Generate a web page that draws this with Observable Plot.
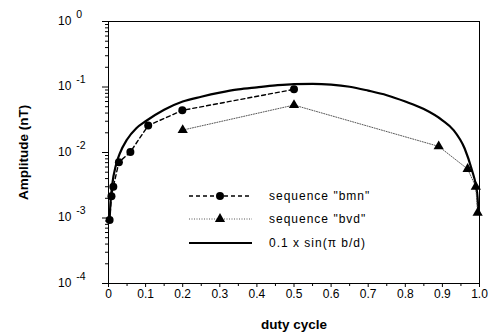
<!DOCTYPE html>
<html>
<head>
<meta charset="utf-8">
<script src="https://cdn.jsdelivr.net/npm/d3@7"></script>
<script src="https://cdn.jsdelivr.net/npm/@observablehq/plot@0.6"></script>
<style>
  html, body { margin: 0; padding: 0; background: white; }
  #wrap { position: relative; width: 492px; height: 335px; }
  #legend { position: absolute; left: 0; top: 0; pointer-events: none; }
</style>
</head>
<body>
<div id="wrap"></div>
<script>
// sequence "bmn" (filled circles, dashed line)
const bmnDuty = [0.003, 0.008, 0.013, 0.028, 0.059, 0.107, 0.199, 0.5];
const bmnAmp  = [0.00093, 0.00215, 0.0030, 0.0071, 0.0102, 0.0258, 0.044, 0.092];

// sequence "bvd" (filled triangles, dotted line)
const bvdDuty = [0.2, 0.5, 0.89, 0.968, 0.99, 0.995];
const bvdAmp  = [0.022, 0.053, 0.0124, 0.0056, 0.0030, 0.0012];

// 0.1 x sin(pi b/d) curve
const curveDuty = [0.003, 0.005, 0.01, 0.02, 0.03, 0.05, 0.075, 0.1, 0.15, 0.2, 0.25, 0.3, 0.35, 0.4, 0.45, 0.5, 0.55, 0.6, 0.65, 0.7, 0.75, 0.8, 0.85, 0.9, 0.93, 0.96, 0.98, 0.99, 0.995, 0.997];
const curveAmp  = [0.00094, 0.0016, 0.0032, 0.0064, 0.0095, 0.0158, 0.0235, 0.030, 0.045, 0.060, 0.071, 0.082, 0.092, 0.099, 0.106, 0.111, 0.112, 0.109, 0.101, 0.088, 0.075, 0.060, 0.046, 0.031, 0.022, 0.0115, 0.0053, 0.0032, 0.0020, 0.0012];

// axis ticks
const yMajor = [1e-4, 1e-3, 1e-2, 1e-1, 1];
const yMinor = [];
for (const p of [1e-4, 1e-3, 1e-2, 1e-1]) for (const m of [2,3,4,5,6,7,8,9]) yMinor.push(m * p);
const xMajor = [0, 0.1, 0.2, 0.3, 0.4, 0.5, 0.6, 0.7, 0.8, 0.9, 1.0];
const xMajorLabels = ["0", "0.1", "0.2", "0.3", "0.4", "0.5", "0.6", "0.7", "0.8", "0.9", "1.0"];
const xMinor = [0.05, 0.15, 0.25, 0.35, 0.45, 0.55, 0.65, 0.75, 0.85, 0.95];

const legendItems = ["sequence \"bmn\"", "sequence \"bvd\"", "0.1 x sin(\u03c0 b/d)"];

const bmn = bmnDuty.map((d, i) => ({duty: d, amp: bmnAmp[i]}));
const bvd = bvdDuty.map((d, i) => ({duty: d, amp: bvdAmp[i]}));
const curve = curveDuty.map((d, i) => ({duty: d, amp: curveAmp[i]}));

const chart = Plot.plot({
  width: 492,
  height: 335,
  marginLeft: 108,
  marginRight: 13,
  marginTop: 21,
  marginBottom: 52,
  style: {fontFamily: "'Liberation Sans', Arial, sans-serif", fontSize: "12px", background: "white", color: "black"},
  x: {domain: [0, 1]},
  y: {type: "log", domain: [1e-4, 1]},
  marks: [
    Plot.frame({stroke: "black", strokeWidth: 1}),
    Plot.axisY({ticks: yMajor, tickSize: 6, tickFormat: d => String(Math.round(Math.log10(d))), label: "Amplitude (nT)", labelAnchor: "center", labelOffset: 90, labelArrow: "none"}),
    Plot.axisY({ticks: yMinor, tickSize: 3, tickFormat: () => "", label: null}),
    Plot.axisX({ticks: xMajor, tickSize: 4, tickPadding: 2, tickFormat: (d, i) => xMajorLabels[i], label: "duty cycle", labelAnchor: "center", labelOffset: 45, labelArrow: "none"}),
    Plot.axisX({ticks: xMinor, tickSize: 3, tickFormat: () => "", label: null}),
    Plot.line(curve, {x: "duty", y: "amp", stroke: "black", strokeWidth: 2.2, curve: "monotone-x"}),
    Plot.line(bmn, {x: "duty", y: "amp", stroke: "black", strokeWidth: 1.4, strokeDasharray: "4,3"}),
    Plot.dot(bmn, {x: "duty", y: "amp", fill: "black", r: 4}),
    Plot.line(bvd, {x: "duty", y: "amp", stroke: "#444", strokeWidth: 0.9, strokeDasharray: "1,1.5"}),
    Plot.dot(bvd, {x: "duty", y: "amp", fill: "black", symbol: "triangle", r: 3.8})
  ]
});

document.getElementById("wrap").appendChild(chart);

// y tick labels as 10 with raised exponent (major ticks only)
d3.select(chart).selectAll('g[aria-label="y-axis tick label"] text').each(function() {
  const t = d3.select(this);
  const e = t.text();
  if (e === "") return;
  d3.select(this.parentNode).attr("transform", null);
  t.text("");
  t.attr("text-anchor", "start").attr("x", -50);
  t.append("tspan").text("10");
  t.append("tspan").attr("dx", 5).attr("dy", -7).attr("font-size", "10.5px").text(e);
});
d3.select(chart).selectAll('g[aria-label="y-axis label"] text, g[aria-label="x-axis label"] text')
  .attr("font-weight", "bold").attr("font-size", "13.5px");

// legend overlay
const lg = d3.select("#wrap").append("svg").attr("id", "legend").attr("width", 492).attr("height", 335)
  .style("font-family", "'Liberation Sans', Arial, sans-serif");
const rows = [196, 219, 243];
const x0 = 189, x1 = 252, xm = 220, xt = 269;
lg.append("line").attr("x1", x0).attr("x2", x1).attr("y1", rows[0]).attr("y2", rows[0]).attr("stroke", "black").attr("stroke-width", 1.4).attr("stroke-dasharray", "4,3");
lg.append("circle").attr("cx", xm).attr("cy", rows[0]).attr("r", 4).attr("fill", "black");
lg.append("line").attr("x1", x0).attr("x2", x1).attr("y1", rows[1]).attr("y2", rows[1]).attr("stroke", "#444").attr("stroke-width", 0.9).attr("stroke-dasharray", "1,1.5");
lg.append("path").attr("d", d3.symbol(d3.symbolTriangle, 45)()).attr("transform", `translate(${xm},${rows[1]})`).attr("fill", "black");
lg.append("line").attr("x1", x0).attr("x2", x1).attr("y1", rows[2]).attr("y2", rows[2]).attr("stroke", "black").attr("stroke-width", 2.2);
legendItems.forEach((s, i) => {
  lg.append("text").attr("x", xt).attr("y", rows[i]).attr("dy", "0.35em").attr("font-size", "12px").attr("letter-spacing", "1px").text(s);
});
</script>
</body>
</html>
